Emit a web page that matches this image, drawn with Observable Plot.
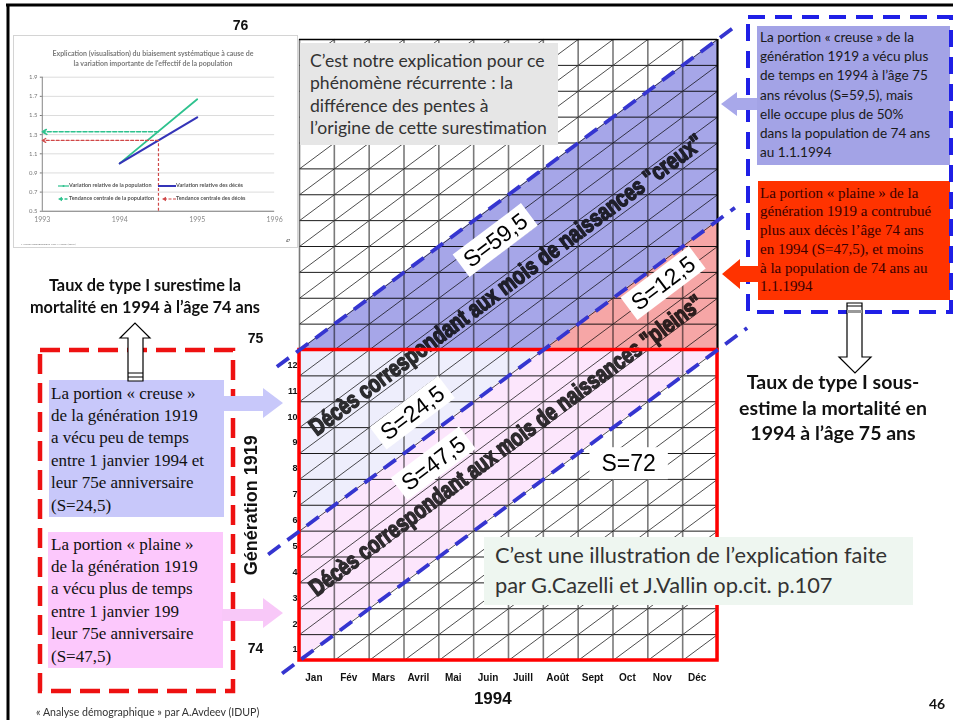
<!DOCTYPE html>
<html><head><meta charset="utf-8">
<script src="https://cdn.jsdelivr.net/npm/d3@7"></script>
<script src="https://cdn.jsdelivr.net/npm/@observablehq/plot@0.6"></script>
<style>
body{margin:0;background:#fff;}
#slide{position:relative;width:953px;height:720px;overflow:hidden;background:#fff;font-family:Lato,"Open Sans",sans-serif;}
.abs{position:absolute;box-sizing:border-box;white-space:nowrap;}
.cal{font-family:Lato,"Open Sans",sans-serif;}
.tim{font-family:"Liberation Serif","Times New Roman",serif;}
</style></head>
<body><div id="slide"></div>
<script>
// ---------- data: main Lexis-type grid ----------
const months = ["Jan","Fév","Mars","Avril","Mai","Juin","Juill","Août","Sept","Oct","Nov","Déc"];
const rowLabels = ["1","2","3","4","5","6","7","8","9","10","11","12"];
const ageLabels = ["74","75"];
const ageRows = [0, 12];
const topAgeLabel = ["76"];
const topAgeRow = 24;
const generationLabel = ["Génération 1919"];
const yearLabel = ["1994"];
// regions (x in months, y in rows of the two one-year age blocks)
const creuxUpper = [{x:0,y1:12,y2:12},{x:7,y1:12,y2:19},{x:12,y1:17,y2:24}];
const pleinUpper = [{x:7,y1:12,y2:12},{x:12,y1:12,y2:17}];
const creuxLower = [{x:0,y1:5,y2:12},{x:7,y1:12,y2:12}];
const pleinLower = [{x:0,y1:0,y2:5},{x:7,y1:7,y2:12},{x:12,y1:12,y2:12}];
const boundaryLines = [
  {x1:-0.65,y1:11.35,x2:12.45,y2:24.45},
  {x1:-0.9,y1:4.1,x2:12.5,y2:17.5},
  {x1:-0.5,y1:-0.5,x2:12.85,y2:12.85}
];
const areaLabels = [
  {text:"S=59,5", x:5.63, y:16.23},
  {text:"S=12,5", x:10.45, y:14.57},
  {text:"S=24,5", x:3.25, y:9.56},
  {text:"S=47,5", x:3.85, y:7.6}
];
const flatLabel = [{text:"S=72", x:9.45, y:7.6}];
const bandTitles = [
  {text:"Décès correspondant aux mois de naissances \"creux\"", x:5.94, y:14.51},
  {text:"Décès correspondant aux mois de naissances \"pleins\"", x:5.94, y:8.31}
];
// ---------- data: inset chart ----------
const insetYears = [1994, 1995];
const popVariation = [1.0, 1.67];
const decesVariation = [1.0, 1.48];
const popTendance = 1.33;
const decesTendance = 1.24;
const midYear = 1994.5;
const insetXTicks = [1993, 1994, 1995, 1996];
const insetYTicks = [0.5, 0.7, 0.9, 1.1, 1.3, 1.5, 1.7, 1.9];

const nCols = months.length, nRows = 2 * rowLabels.length;
const cells = [];
for (let i = 0; i < nCols; i++) for (let j = 0; j < nRows; j++) cells.push({i, j});

const main = Plot.plot({
  width: 953, height: 720,
  marginLeft: 299, marginRight: 236, marginTop: 39, marginBottom: 60,
  x: {domain: [0, nCols], axis: null},
  y: {domain: [0, nRows], axis: null},
  style: {background: "transparent", fontFamily: "Liberation Sans, Arial, sans-serif", overflow: "visible"},
  marks: [
    Plot.ruleY(d3.range(nRows + 1), {x1: 0, x2: nCols, stroke: "#000", strokeWidth: 0.9}),
    Plot.ruleX(d3.range(nCols + 1), {y1: 0, y2: nRows, stroke: "#7a7a7a", strokeWidth: 1.6}),
    Plot.link(cells, {x1: "i", y1: "j", x2: d => d.i + 1, y2: d => d.j + 1, stroke: "#000", strokeWidth: 0.7}),
    Plot.ruleX([nCols], {y1: 12, y2: nRows, stroke: "#000", strokeWidth: 2}),
    Plot.ruleY([nRows], {x1: 0, x2: nCols, stroke: "#000", strokeWidth: 1.5}),
    Plot.text(bandTitles, {x: "x", y: "y", text: "text", rotate: -36.8, fontSize: 24, fontWeight: "bold", fill: "#2e2e2e", stroke: "#2e2e2e", strokeWidth: 1.5, strokeLinejoin: "round"}),
    Plot.areaY(creuxUpper, {x: "x", y1: "y1", y2: "y2", fill: "#a6a6e8", mixBlendMode: "multiply"}),
    Plot.areaY(pleinUpper, {x: "x", y1: "y1", y2: "y2", fill: "#f6a6a6", mixBlendMode: "multiply"}),
    Plot.areaY(creuxLower, {x: "x", y1: "y1", y2: "y2", fill: "#eeeefc", mixBlendMode: "multiply"}),
    Plot.areaY(pleinLower, {x: "x", y1: "y1", y2: "y2", fill: "#fce6fc", mixBlendMode: "multiply"}),
    Plot.rect([0], {x1: 0, x2: nCols, y1: 0, y2: 12, fill: "none", stroke: "#ff0000", strokeWidth: 3.5}),
    Plot.link(boundaryLines, {x1: "x1", y1: "y1", x2: "x2", y2: "y2", stroke: "#3535d0", strokeWidth: 3.8, strokeDasharray: "15,9"}),
    Plot.text(areaLabels, {x: "x", y: "y", text: "text", rotate: -37, fontSize: 23, fill: "#000"}),
    Plot.text(flatLabel, {x: "x", y: "y", text: "text", fontSize: 23, fill: "#000"}),
    Plot.text(months, {x: (d, i) => i + 0.5, frameAnchor: "bottom", dy: 20, dx: -3, fontSize: 10, fontWeight: "bold", fill: "#111"}),
    Plot.text(rowLabels, {x: 0, y: (d, i) => i + 0.5, dx: -2, dy: 2, textAnchor: "end", fontSize: 9, fontWeight: "bold", fill: "#111"}),
    Plot.text(ageLabels, {x: 0, y: ageRows, dx: -44, dy: -11.5, fontSize: 14, fontWeight: "bold", fill: "#111"}),
    Plot.text(topAgeLabel, {x: 0, y: topAgeRow, dx: -59, dy: -14, fontSize: 14, fontWeight: "bold", fill: "#111"}),
    Plot.text(generationLabel, {x: 0, y: 6, dx: -48, rotate: -90, fontSize: 18, fontWeight: "bold", fill: "#111"}),
    Plot.text(yearLabel, {x: 5.55, frameAnchor: "bottom", dy: 43, fontSize: 17, fontWeight: "bold", fill: "#111"})
  ]
});

const slide = document.getElementById("slide");
main.style.position = "absolute"; main.style.left = "0px"; main.style.top = "0px";
slide.appendChild(main);

// post-process: compress band titles, white boxes behind S labels, blend fills
main.querySelectorAll("text").forEach(t => {
  const s = t.textContent;
  if (s.startsWith("Décès")) {
    t.setAttribute("textLength", 485);
    t.setAttribute("lengthAdjust", "spacingAndGlyphs");
  }
});
main.querySelectorAll("text").forEach(t => {
  const s = t.textContent;
  if (s.startsWith("S=")) {
    const bb = t.getBBox();
    const big = s === "S=72";
    const px = big ? 12 : 6, py = big ? 3 : 1;
    const r = document.createElementNS("http://www.w3.org/2000/svg", "rect");
    r.setAttribute("x", bb.x - px); r.setAttribute("y", bb.y - py);
    r.setAttribute("width", bb.width + 2 * px); r.setAttribute("height", bb.height + 2 * py);
    r.setAttribute("fill", "#fff"); r.setAttribute("stroke", "none");
    const tr = t.getAttribute("transform"); if (tr) r.setAttribute("transform", tr);
    t.parentNode.insertBefore(r, t);
  }
});
main.querySelectorAll('g[aria-label="area"]').forEach(g => g.style.mixBlendMode = "multiply");

// ---------- inset chart ----------
const insetDiv = document.createElement("div");
insetDiv.className = "abs";
Object.assign(insetDiv.style, {left: "13px", top: "35px", width: "285px", height: "213px", border: "1px solid #d4d4d4", background: "#fff"});
slide.appendChild(insetDiv);
const popSeries = insetYears.map((y, i) => ({year: y, v: popVariation[i]}));
const decSeries = insetYears.map((y, i) => ({year: y, v: decesVariation[i]}));
const inset = Plot.plot({
  width: 285, height: 213, marginLeft: 29, marginRight: 22, marginTop: 42, marginBottom: 36,
  x: {domain: [1993, 1996]},
  y: {domain: [0.5, 1.9]},
  style: {background: "transparent", fontFamily: "Lato, sans-serif", overflow: "visible"},
  marks: [
    Plot.gridY(insetYTicks, {stroke: "#dcdcdc", strokeOpacity: 1}),
    Plot.axisX(insetXTicks, {tickFormat: d => String(d), tickSize: 0, tickPadding: 6, fontSize: 7, color: "#888", label: null}),
    Plot.axisY(insetYTicks, {tickFormat: d => d.toFixed(1), tickSize: 2, tickPadding: 3, fontSize: 6, color: "#777", label: null}),
    Plot.ruleX([1993], {stroke: "#666", strokeWidth: 0.8}),
    Plot.ruleY([0.5], {stroke: "#666", strokeWidth: 0.8}),
    Plot.line(popSeries, {x: "year", y: "v", stroke: "#2ec28e", strokeWidth: 1.8}),
    Plot.line(decSeries, {x: "year", y: "v", stroke: "#3434b8", strokeWidth: 2.2}),
    Plot.arrow([0], {x1: midYear, y1: popTendance, x2: 1993, y2: popTendance, stroke: "#2ec28e", strokeWidth: 1.6, strokeDasharray: "4,2", headLength: 5}),
    Plot.arrow([0], {x1: midYear, y1: decesTendance, x2: 1993, y2: decesTendance, stroke: "#d04848", strokeWidth: 1.2, strokeDasharray: "3,2", headLength: 5}),
    Plot.ruleX([midYear], {y1: 0.5, y2: decesTendance, stroke: "#d04848", strokeWidth: 1.2, strokeDasharray: "3,2"})
  ]
});
inset.style.position = "absolute"; inset.style.left = "-1px"; inset.style.top = "-1px";
insetDiv.appendChild(inset);
insetDiv.insertAdjacentHTML("beforeend", `
<div class="abs" style="left:0;top:12px;width:278px;text-align:center;font:bold 7px/10px Lato,sans-serif;color:#7a7a7a">Explication (visualisation) du biaisement systématique à cause de<br>la variation importante de l'effectif de la population</div>
<div class="abs" style="left:44px;top:146px;font:bold 5.5px Lato,sans-serif;color:#555"><svg width="11" height="6" style="vertical-align:middle"><line x1="0" y1="3" x2="11" y2="3" stroke="#2ec28e" stroke-width="1.2"/><circle cx="5.5" cy="3" r="1" fill="#2ec28e"/></svg>Variation relative de la population</div>
<div class="abs" style="left:144px;top:146px;font:bold 5.5px Lato,sans-serif;color:#555"><svg width="18" height="6" style="vertical-align:middle"><line x1="0" y1="3" x2="18" y2="3" stroke="#3434b8" stroke-width="2"/></svg>Variation relative des décès</div>
<div class="abs" style="left:44px;top:159px;font:bold 5.5px Lato,sans-serif;color:#555"><svg width="11" height="6" style="vertical-align:middle"><line x1="2" y1="3" x2="11" y2="3" stroke="#2ec28e" stroke-width="1.4" stroke-dasharray="3,1.5"/><path d="M0,3 L4,0.8 L4,5.2Z" fill="#2ec28e"/></svg>Tendance centrale de la population</div>
<div class="abs" style="left:148px;top:159px;font:bold 5.5px Lato,sans-serif;color:#555"><svg width="14" height="6" style="vertical-align:middle"><line x1="2" y1="3" x2="14" y2="3" stroke="#d04848" stroke-width="1.2" stroke-dasharray="3,1.5"/><path d="M0,3 L4,0.8 L4,5.2Z" fill="#d04848"/></svg>Tendance centrale des décès</div>
<div class="abs" style="left:7px;top:206px;font:2.6px Lato,sans-serif;color:#777">« Analyse démographique » par A.Avdeev (IDUP)</div>
<div class="abs" style="left:272px;top:203px;font:bold 3.5px Lato,sans-serif;color:#555">47</div>
`);

// ---------- text boxes ----------
slide.insertAdjacentHTML("beforeend", `
<div class="abs cal" style="left:300px;top:43px;width:258px;height:102px;background:#e6e6e6;padding:7px 0 0 10px;font-size:17.6px;line-height:22.3px;color:#333">C’est notre explication pour ce<br>phénomène récurrente : la<br>différence des pentes à<br>l’origine de cette surestimation</div>
<div class="abs cal" style="left:484px;top:537px;width:429px;height:68px;background:#eef6f0;padding:3px 0 0 11px;font-size:21.8px;line-height:30px;color:#333">C’est une illustration de l’explication faite<br>par G.Cazelli et J.Vallin op.cit. p.107</div>
<div class="abs cal" style="left:757px;top:26px;width:193px;height:139px;background:#a3a3e6;padding:2px 0 0 3px;font-size:13.6px;line-height:19.2px;color:#1a1a1a">La portion « creuse » de la<br>génération 1919 a vécu plus<br>de temps en 1994 à l’âge 75<br>ans révolus (S=59,5), mais<br>elle occupe plus de 50%<br>dans la population de 74 ans<br>au 1.1.1994</div>
<div class="abs tim" style="left:758px;top:181px;width:192px;height:119px;background:#ff3300;padding:2.5px 0 0 2px;font-size:15px;line-height:18.8px;color:#3a0000">La portion « plaine » de la<br>génération 1919 a contrubué<br>plus aux décès l’âge 74 ans<br>en 1994 (S=47,5), et moins<br>à la population de 74 ans au<br>1.1.1994</div>
<div class="abs tim" style="left:49px;top:380px;width:175px;height:137px;background:#c8c8fa;padding:2.5px 0 0 2px;font-size:17px;line-height:22.4px;color:#111">La portion « creuse »<br>de la génération 1919<br>a vécu peu de temps<br>entre 1 janvier 1994 et<br>leur 75e anniversaire<br>(S=24,5)</div>
<div class="abs tim" style="left:48px;top:532px;width:175px;height:136px;background:#fcc8fc;padding:1.5px 0 0 3px;font-size:17px;line-height:22.4px;color:#111">La portion « plaine »<br>de la génération 1919<br>a vécu plus de temps<br>entre 1 janvier 199<br>leur 75e anniversaire<br>(S=47,5)</div>
<div class="abs cal" style="left:0px;top:274px;width:290px;text-align:center;font-weight:bold;font-size:16.3px;line-height:22px;color:#111">Taux de type I surestime la<br>mortalité en 1994 à l’âge 74 ans</div>
<div class="abs cal" style="left:733px;top:369px;width:200px;text-align:center;font-weight:bold;font-size:19.5px;line-height:25.5px;color:#111">Taux de type I sous-<br>estime la mortalité en<br>1994 à l’âge 75 ans</div>
<div class="abs cal" style="left:36px;top:706px;font-size:10.6px;color:#333">« Analyse démographique » par A.Avdeev (IDUP)</div>
<div class="abs cal" style="left:929px;top:695px;font-size:14px;font-weight:bold;color:#111">46</div>
<svg class="abs" width="953" height="720" style="left:0;top:0;pointer-events:none">
  <line x1="6" y1="5" x2="953" y2="5" stroke="#000" stroke-width="3"/>
  <line x1="8" y1="4" x2="8" y2="720" stroke="#000" stroke-width="3"/>
  <rect x="40" y="350" width="193" height="341" fill="none" stroke="#ee1111" stroke-width="4.5" stroke-dasharray="20 9"/>
  <rect x="748" y="17" width="203" height="295" fill="none" stroke="#1f1fe6" stroke-width="4" stroke-dasharray="17 10"/>
  <path d="M222,396 L263,396 L263,388 L283,403 L263,418 L263,411 L222,411 Z" fill="#c8c8fa"/>
  <path d="M222,609 L263,609 L263,598 L283,613 L263,628 L263,621 L222,621 Z" fill="#f8c8f8"/>
  <path d="M757,98 L737,98 L737,92 L721,104 L737,116 L737,110 L757,110 Z" fill="#a8a8ea"/>
  <path d="M758,266 L740,266 L740,259 L722,274 L740,289 L740,282 L758,282 Z" fill="#ff3300"/>
  <path d="M128,381 L128,338 L120,338 L135,323 L150,338 L143,338 L143,381 Z" fill="#fff" stroke="#000" stroke-width="1.2"/>
  <line x1="128" y1="373" x2="143" y2="373" stroke="#000" stroke-width="1"/>
  <line x1="128" y1="377" x2="143" y2="377" stroke="#000" stroke-width="1"/>
  <path d="M847,303 L847,357 L839,357 L855,373 L871,357 L862,357 L862,303 Z" fill="#fff" stroke="#000" stroke-width="1.2"/>
  <line x1="847" y1="306" x2="862" y2="306" stroke="#000" stroke-width="1"/>
  <rect x="847" y="310" width="15" height="3" fill="#999"/>
</svg>
`);
</script>
</body></html>
